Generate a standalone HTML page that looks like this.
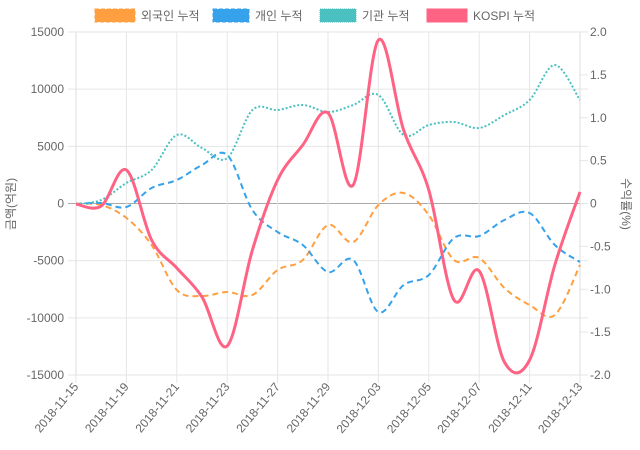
<!DOCTYPE html>
<html><head><meta charset="utf-8"><style>
html,body{margin:0;padding:0;background:#fff;}
svg{display:block;font-family:"Liberation Sans","Noto Sans CJK KR",sans-serif;}
</style></head><body>
<svg id="s" width="640" height="450" viewBox="0 0 640 450">
<g id="grid"></g>
<g id="lines"></g>
<g font-size="12" fill="#666">
<rect x="95" y="9" width="40" height="13" fill="#ff9f40" stroke="#ff9f40" stroke-dasharray="4,2"/>
<text x="141" y="20">외국인 누적</text>
<rect x="213" y="9" width="36" height="13" fill="#36a2eb" stroke="#36a2eb" stroke-dasharray="4,2"/>
<text x="255" y="20">개인 누적</text>
<rect x="320" y="9" width="36" height="13" fill="#4bc0c0" stroke="#4bc0c0" stroke-dasharray="1,1"/>
<text x="362" y="20">기관 누적</text>
<rect x="427" y="9" width="40" height="13" fill="#ff6384" stroke="#ff6384"/>
<text x="473" y="20">KOSPI 누적</text>
<text transform="translate(15,204) rotate(-90)" text-anchor="middle">금액(억원)</text>
<text transform="translate(622,204) rotate(90)" text-anchor="middle">수익률(%)</text>
</g>
</svg>
<script>
var NS="http://www.w3.org/2000/svg";
function el(p,t,a,txt){var e=document.createElementNS(NS,t);for(var k in a)e.setAttribute(k,a[k]);if(txt!=null)e.textContent=txt;p.appendChild(e);return e;}
var g=document.getElementById('grid'),L=document.getElementById('lines');
var x0=76,x1=580,yTop=32,yBot=375;
var yl=[15000,10000,5000,0,-5000,-10000,-15000],yr=["2.0","1.5","1.0","0.5","0","-0.5","-1.0","-1.5","-2.0"];
for(var i=0;i<7;i++){var y=yTop+(yBot-yTop)*i/6;
el(g,'line',{x1:x0-8,x2:x1+8,y1:y,y2:y,stroke:i==3?'#aaa':'#e6e6e6','stroke-width':1});
el(g,'text',{x:64,y:y+4,'text-anchor':'end','font-size':12,fill:'#666'},yl[i]);}
for(var i=0;i<9;i++){var y=yTop+(yBot-yTop)*i/8;
el(g,'line',{x1:x1,x2:x1+8,y1:y,y2:y,stroke:'#e6e6e6'});
el(g,'text',{x:590,y:y+4,'font-size':12,fill:'#666'},yr[i]);}
var labs=["2018-11-15","2018-11-19","2018-11-21","2018-11-23","2018-11-27","2018-11-29","2018-12-03","2018-12-05","2018-12-07","2018-12-11","2018-12-13"];
var st=(x1-x0)/20;
for(var i=0;i<11;i++){var x=x0+st*2*i;
el(g,'line',{x1:x,x2:x,y1:yTop,y2:yBot+8,stroke:'#e6e6e6'});
el(g,'text',{transform:'translate('+(x+3)+','+(yBot+12)+') rotate(-50)','text-anchor':'end','font-size':12,fill:'#666'},labs[i]);}
el(g,'line',{x1:x0,x2:x0,y1:yTop,y2:yBot,stroke:'#ddd'});
el(g,'line',{x1:x1,x2:x1,y1:yTop,y2:yBot,stroke:'#ddd'});
function path(ys){var p=ys.map(function(y,i){return [x0+st*i,y];});var d='M'+p[0][0]+','+p[0][1];var t=0.17;
for(var i=0;i<p.length-1;i++){var a=p[i-1]||p[i],b=p[i],c=p[i+1],e=p[i+2]||c;
d+=' C'+(b[0]+(c[0]-a[0])*t)+','+(b[1]+(c[1]-a[1])*t)+' '+(c[0]-(e[0]-b[0])*t)+','+(c[1]-(e[1]-b[1])*t)+' '+c[0]+','+c[1];}
return d;}
var F=[204,205,218,245,290,296,292,295,270,260,225,242,205,193,215,260,258,288,305,315,265];
var I=[204,203,207,188,180,165,155,210,232,245,272,260,312,285,275,238,236,220,213,245,262];
var N=[204,200,183,170,135,148,158,110,110,105,112,105,95,135,125,122,128,115,100,65,100];
var K=[204,206,170,240,268,297,346,250,180,145,113,185,40,130,190,300,271,362,360,265,192];
el(L,'path',{d:path(F),fill:'none',stroke:'#ff9f40','stroke-width':2,'stroke-dasharray':'6,4'});
el(L,'path',{d:path(I),fill:'none',stroke:'#36a2eb','stroke-width':2,'stroke-dasharray':'6,4'});
el(L,'path',{d:path(N),fill:'none',stroke:'#4bc0c0','stroke-width':2,'stroke-dasharray':'2,2'});
el(L,'path',{d:path(K),fill:'none',stroke:'#ff6384','stroke-width':3});
</script>
</body></html>
